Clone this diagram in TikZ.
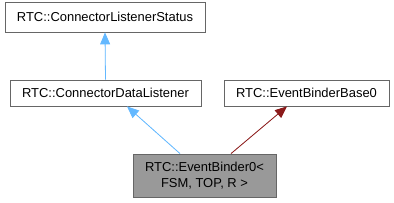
\documentclass[tikz,border=0pt]{standalone}
\usepackage{fontspec}
\setmainfont{Liberation Sans}
\usetikzlibrary{arrows.meta}
\definecolor{edgeblue}{HTML}{63B8FF}
\definecolor{edgered}{HTML}{8B1A1A}
\definecolor{boxline}{HTML}{666666}
\definecolor{focusfill}{HTML}{999999}
\tikzset{
  cls/.style={draw=boxline, line width=0.8pt, fill=white, inner sep=0pt, font=\fontsize{13}{15.5}\selectfont, align=center},
  inh/.style={-{Triangle[length=12pt,width=10pt]}, line width=0.8pt},
}
\begin{document}
\begin{tikzpicture}[x=1bp,y=-1bp]
\useasboundingbox (0,0) rectangle (394,203);
\node[cls, minimum width=200bp, minimum height=30bp] (st) at (105,17) {RTC::ConnectorListenerStatus};
\node[cls, minimum width=191bp, minimum height=26bp] (dl) at (105.5,93) {RTC::ConnectorDataListener};
\node[cls, minimum width=165bp, minimum height=26bp] (bb) at (306.5,93) {RTC::EventBinderBase0};
\node[cls, fill=focusfill, minimum width=143bp, minimum height=43bp] (eb) at (204.5,175.5) {RTC::EventBinder0<\\FSM, TOP, R >};
\draw[inh, draw=edgeblue, fill=edgeblue] (dl.north) -- (st.south);
\draw[inh, draw=edgeblue, fill=edgeblue] (eb.north -| 180,0) -- (dl.south -| 127,0);
\draw[inh, draw=edgered, fill=edgered] (eb.north -| 231,0) -- (bb.south -| 287,0);
\end{tikzpicture}
\end{document}
